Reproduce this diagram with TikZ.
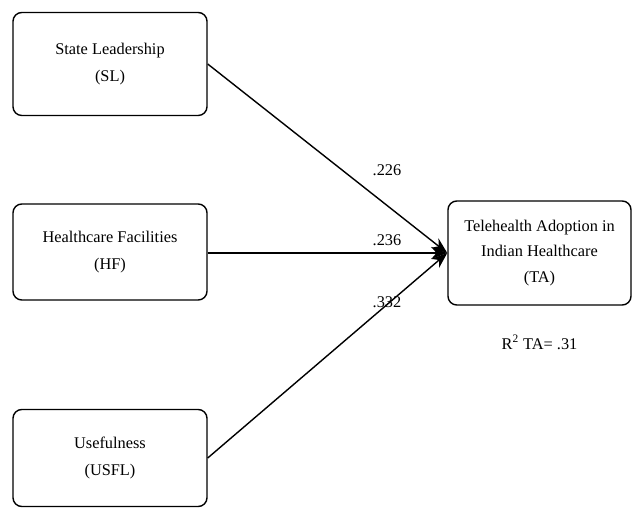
\documentclass[tikz,border=0pt]{standalone}
\usepackage{fontspec}
\setmainfont{Liberation Serif}
\usetikzlibrary{arrows.meta,positioning}

\begin{document}
\begin{tikzpicture}[>={Stealth[length=3.2mm,width=2.4mm]},line width=0.8pt]
\tikzstyle{box}=[draw, rounded corners=5pt, align=center, minimum width=3.88cm, minimum height=2.0cm, font=\fontsize{9.3}{15.5}\selectfont]
\tikzstyle{coef}=[font=\fontsize{9.3}{11}\selectfont]
\useasboundingbox (0,0) rectangle (12.64,-10.26);
% predictors on the left
\node[box, minimum height=2.06cm] (sl) at (2.2,-1.28) {State Leadership\\(SL)};
\node[box, minimum height=1.92cm] (hf) at (2.2,-5.04) {Healthcare Facilities\\(HF)};
\node[box, minimum height=1.94cm] (usfl) at (2.2,-9.16) {Usefulness\\(USFL)};
% outcome
\node[box, minimum width=3.66cm, minimum height=2.08cm, font=\fontsize{9.3}{14.7}\selectfont] (ta) at (10.79,-5.06) {Telehealth Adoption in\\Indian Healthcare\\(TA)};
\draw[->] (sl.east) -- (ta.west);
\draw[->] (hf.east |- ta.west) -- (ta.west);
\draw[->] (usfl.east) -- (ta.west);
% path coefficients
\node[coef] (c1) at (7.74,-3.4) {.226};
\node[coef] (c2) at (7.74,-4.8) {.236};
\node[coef] (c3) at (7.74,-6.04) {.332};
\node[coef, below=0.45cm of ta] (r2) {R\textsuperscript{2} TA= .31};
\end{tikzpicture}
\end{document}
